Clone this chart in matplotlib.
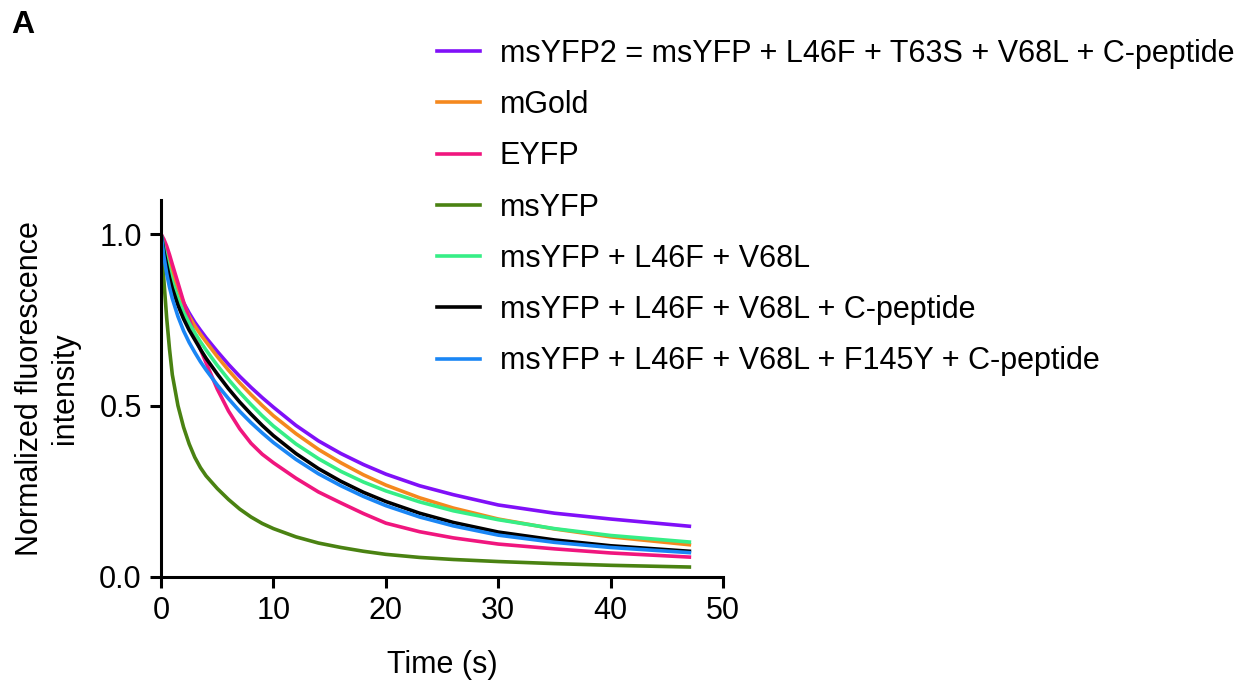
import matplotlib.pyplot as plt

plt.rcParams["font.family"] = ["Liberation Sans", "DejaVu Sans"]

# time points (s)
time = [0, 0.25, 0.5, 0.75, 1, 1.5, 2, 2.5, 3, 3.5, 4, 5, 6, 7, 8, 9, 10,
        12, 14, 16, 18, 20, 23, 26, 30, 35, 40, 47]

# normalized fluorescence intensity
msyfp2 = [1.0, 0.97, 0.94, 0.91, 0.885, 0.84, 0.80, 0.77, 0.743, 0.72, 0.698, 0.658,
          0.62, 0.585, 0.553, 0.523, 0.495, 0.442, 0.397, 0.36, 0.328, 0.300,
          0.266, 0.240, 0.210, 0.186, 0.169, 0.148]
mgold = [1.0, 0.968, 0.945, 0.915, 0.89, 0.845, 0.795, 0.76, 0.732, 0.708, 0.686, 0.643,
         0.603, 0.566, 0.532, 0.50, 0.47, 0.418, 0.372, 0.333, 0.298, 0.268,
         0.231, 0.201, 0.169, 0.140, 0.117, 0.094]
eyfp = [1.0, 0.985, 0.965, 0.94, 0.912, 0.858, 0.803, 0.752, 0.706, 0.664, 0.625, 0.548,
        0.484, 0.432, 0.39, 0.358, 0.333, 0.288, 0.248, 0.216, 0.185, 0.157,
        0.132, 0.114, 0.096, 0.082, 0.070, 0.058]
msyfp = [1.0, 0.865, 0.755, 0.665, 0.59, 0.50, 0.437, 0.388, 0.349, 0.319, 0.295, 0.258,
         0.226, 0.198, 0.175, 0.156, 0.141, 0.117, 0.099, 0.086, 0.075, 0.066,
         0.057, 0.051, 0.045, 0.039, 0.034, 0.029]
l46f_v68l = [1.0, 0.96, 0.925, 0.892, 0.862, 0.812, 0.772, 0.74, 0.712, 0.686, 0.662, 0.617,
             0.576, 0.538, 0.503, 0.47, 0.44, 0.388, 0.345, 0.308, 0.277, 0.251,
             0.219, 0.193, 0.167, 0.141, 0.121, 0.102]
l46f_v68l_cpep = [1.0, 0.95, 0.91, 0.873, 0.842, 0.793, 0.753, 0.72, 0.692, 0.664, 0.638, 0.592,
                  0.549, 0.51, 0.475, 0.442, 0.412, 0.36, 0.316, 0.279, 0.247, 0.22,
                  0.186, 0.159, 0.131, 0.108, 0.091, 0.075]
l46f_v68l_f145y_cpep = [1.0, 0.935, 0.885, 0.845, 0.812, 0.76, 0.718, 0.684, 0.655, 0.628, 0.604,
                        0.56, 0.52, 0.483, 0.45, 0.42, 0.392, 0.343, 0.301, 0.266, 0.235,
                        0.208, 0.175, 0.149, 0.122, 0.101, 0.086, 0.071]

labels = [
    "msYFP2 = msYFP + L46F + T63S + V68L + C-peptide",
    "mGold",
    "EYFP",
    "msYFP",
    "msYFP + L46F + V68L",
    "msYFP + L46F + V68L + C-peptide",
    "msYFP + L46F + V68L + F145Y + C-peptide",
]
series = [msyfp2, mgold, eyfp, msyfp, l46f_v68l, l46f_v68l_cpep, l46f_v68l_f145y_cpep]
colors = ["#8010F8", "#F5881E", "#F0167E", "#4A8212", "#36EE86", "#000000", "#1A86F5"]

fig = plt.figure(figsize=(12.39, 6.82), dpi=100)
ax = fig.add_axes([0.130, 0.154, 0.4536, 0.553])

for y, c, lab in zip(series, colors, labels):
    ax.plot(time, y, color=c, lw=2.6, label=lab, solid_joinstyle="round")

ax.set_xlim(0, 50)
ax.set_ylim(0, 1.1)
ax.set_xticks([0, 10, 20, 30, 40, 50])
ax.set_yticks([0.0, 0.5, 1.0])
ax.set_yticklabels(["0.0", "0.5", "1.0"])
for s in ["top", "right"]:
    ax.spines[s].set_visible(False)
for s in ["left", "bottom"]:
    ax.spines[s].set_linewidth(2.2)
ax.tick_params(width=2.2, length=8, labelsize=22, pad=6)
ax.set_xlabel("Time (s)", fontsize=22, labelpad=17)
ax.set_ylabel("Normalized fluorescence\nintensity", fontsize=22, labelpad=14)

ax.legend(loc="upper left", bbox_to_anchor=(0.3527, 0.943), bbox_transform=fig.transFigure,
          frameon=False, fontsize=22, handlelength=1.4, handletextpad=0.65,
          labelspacing=0.695, borderpad=0, borderaxespad=0)

fig.text(0.009, 0.985, "A", fontsize=23, fontweight="bold", va="top", ha="left")

fig.savefig("out.png", dpi=100)
